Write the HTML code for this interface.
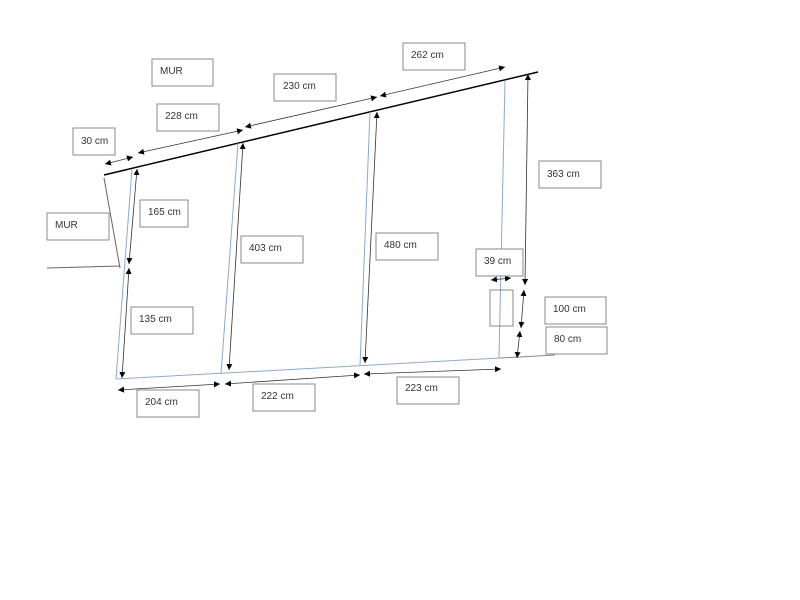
<!DOCTYPE html>
<html><head><meta charset="utf-8"><style>
html,body{margin:0;padding:0;background:#fff;}
svg{display:block}
text{font-family:"Liberation Sans",sans-serif;font-size:10px;fill:#333;}
</style></head><body>
<svg width="800" height="600" viewBox="0 0 800 600" xmlns="http://www.w3.org/2000/svg">
<defs>
<marker id="a" viewBox="0 0 10 10" refX="10" refY="5" markerWidth="6" markerHeight="6" orient="auto-start-reverse" markerUnits="userSpaceOnUse"><path d="M0,0L10,5L0,10z" fill="#000"/></marker>
</defs>
<g fill="none">
<line x1="104" y1="175" x2="538" y2="72" stroke="#000" stroke-width="1.5"/>
<line x1="104" y1="178" x2="120" y2="268" stroke="#666" stroke-width="1"/>
<line x1="47" y1="268" x2="120" y2="266" stroke="#666" stroke-width="1"/>
<line x1="116" y1="379" x2="500" y2="358" stroke="#8aaad0" stroke-width="1"/>
<line x1="500" y1="358" x2="555" y2="355" stroke="#888" stroke-width="1"/>
<line x1="132" y1="169" x2="116" y2="379" stroke="#8aaad0"/>
<line x1="238" y1="143" x2="221" y2="374" stroke="#8aaad0"/>
<line x1="370" y1="112" x2="360" y2="366" stroke="#8aaad0"/>
<line x1="505" y1="81" x2="499" y2="358" stroke="#8aaad0"/>
<g stroke="#333" stroke-width="0.8" marker-start="url(#a)" marker-end="url(#a)">
<line x1="137" y1="169" x2="129" y2="264"/>
<line x1="129" y1="268" x2="122" y2="378"/>
<line x1="243" y1="143" x2="229" y2="370"/>
<line x1="377" y1="112" x2="365" y2="363"/>
<line x1="528" y1="74" x2="525" y2="285"/>
<line x1="524" y1="290" x2="521" y2="328"/>
<line x1="520" y1="331" x2="517" y2="358"/>
<line x1="491" y1="280" x2="511" y2="278"/>
<line x1="105" y1="164" x2="133" y2="157"/>
<line x1="138" y1="153" x2="243" y2="130"/>
<line x1="245" y1="127" x2="377" y2="97"/>
<line x1="380" y1="96" x2="505" y2="67"/>
<line x1="118" y1="390" x2="220" y2="384"/>
<line x1="225" y1="384" x2="360" y2="375"/>
<line x1="364" y1="374" x2="501" y2="369"/>
</g>
<rect x="490" y="290" width="23" height="36" stroke="#888"/>
</g>
<g fill="#fff" stroke="#888" stroke-width="1">
<rect x="152" y="59" width="61" height="27"/>
<rect x="157" y="104" width="62" height="27"/>
<rect x="73" y="128" width="42" height="27"/>
<rect x="274" y="74" width="62" height="27"/>
<rect x="403" y="43" width="62" height="27"/>
<rect x="47" y="213" width="62" height="27"/>
<rect x="140" y="200" width="48" height="27"/>
<rect x="241" y="236" width="62" height="27"/>
<rect x="376" y="233" width="62" height="27"/>
<rect x="539" y="161" width="62" height="27"/>
<rect x="476" y="249" width="47" height="27"/>
<rect x="545" y="297" width="61" height="27"/>
<rect x="546" y="327" width="61" height="27"/>
<rect x="131" y="307" width="62" height="27"/>
<rect x="137" y="390" width="62" height="27"/>
<rect x="253" y="384" width="62" height="27"/>
<rect x="397" y="377" width="62" height="27"/>
</g>
<text x="160" y="74">MUR</text>
<text x="165" y="119">228 cm</text>
<text x="81" y="144">30 cm</text>
<text x="283" y="89">230 cm</text>
<text x="411" y="58">262 cm</text>
<text x="55" y="228">MUR</text>
<text x="148" y="215">165 cm</text>
<text x="249" y="251">403 cm</text>
<text x="384" y="248">480 cm</text>
<text x="547" y="177">363 cm</text>
<text x="484" y="264">39 cm</text>
<text x="553" y="312">100 cm</text>
<text x="554" y="342">80 cm</text>
<text x="139" y="322">135 cm</text>
<text x="145" y="405">204 cm</text>
<text x="261" y="399">222 cm</text>
<text x="405" y="391">223 cm</text>
</svg>
</body></html>
